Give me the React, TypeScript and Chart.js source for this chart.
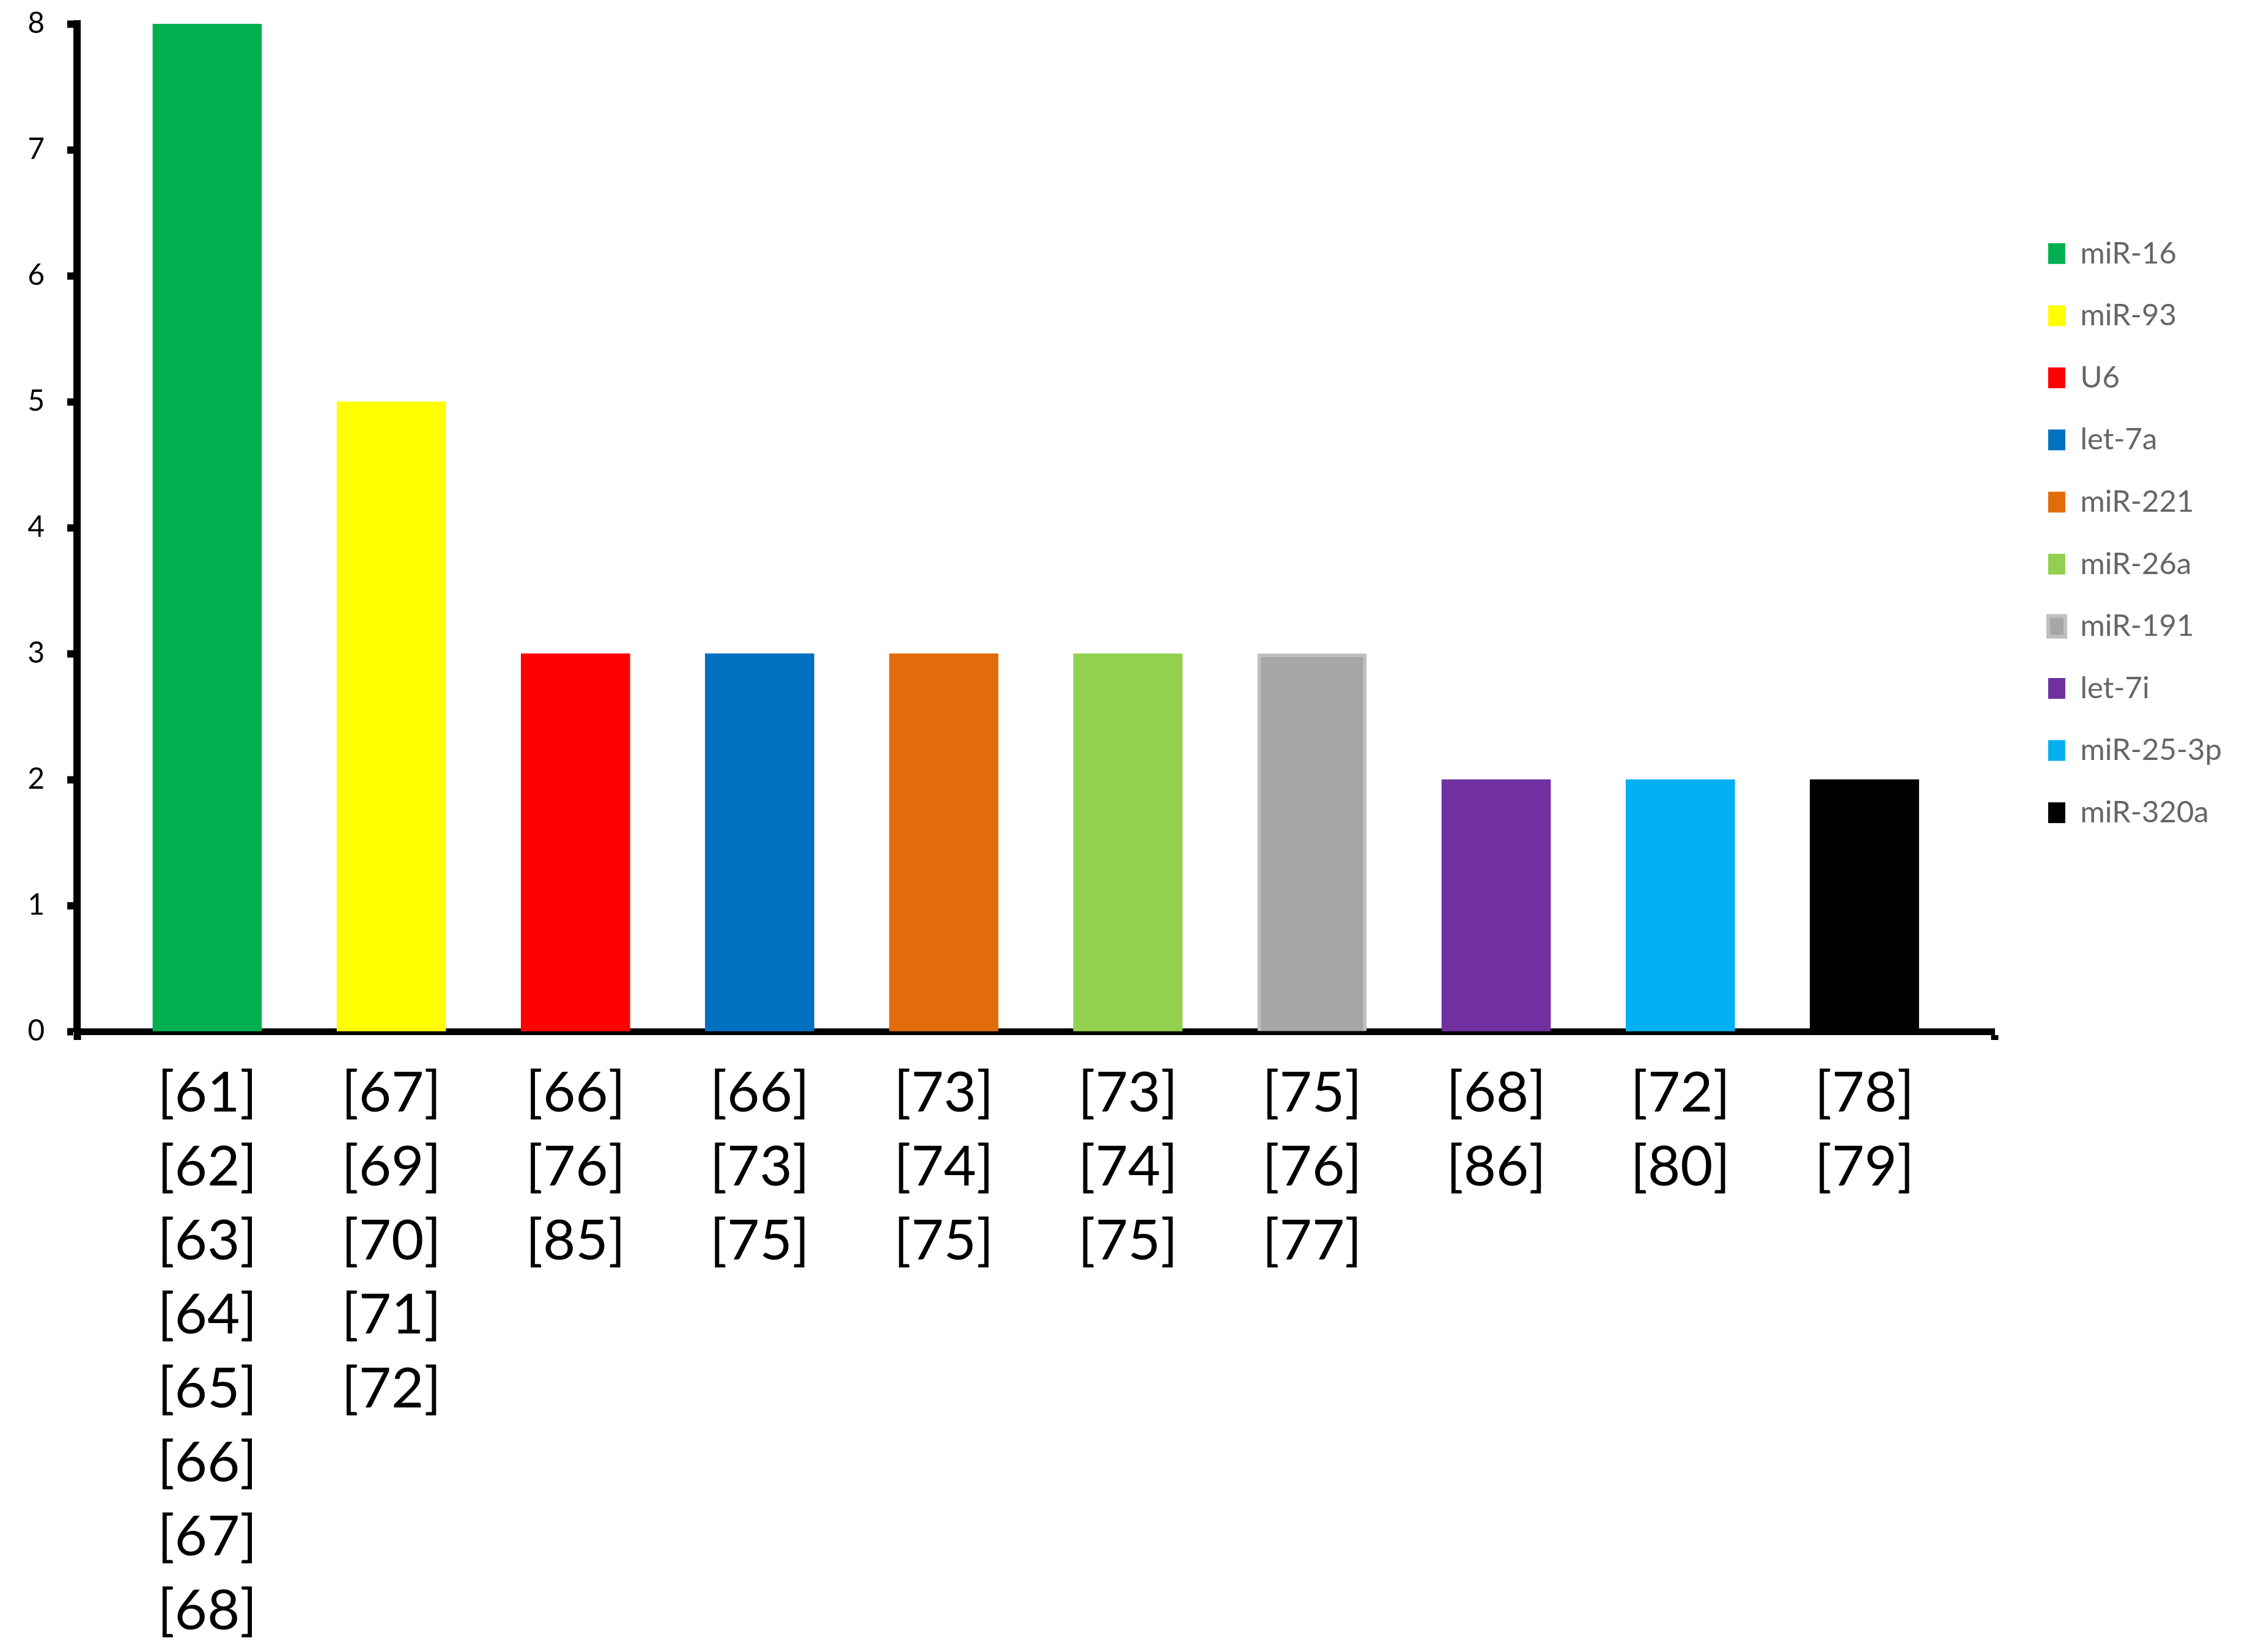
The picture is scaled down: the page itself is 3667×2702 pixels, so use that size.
import React, { useEffect, useRef } from 'react';
import { Chart, registerables } from 'chart.js';

Chart.register(...registerables);

const categories = ['miR-16', 'miR-93', 'U6', 'let-7a', 'miR-221', 'miR-26a', 'miR-191', 'let-7i', 'miR-25-3p', 'miR-320a'];
const counts = [8, 5, 3, 3, 3, 3, 3, 2, 2, 2];
const references = [
  ['[61]', '[62]', '[63]', '[64]', '[65]', '[66]', '[67]', '[68]'],
  ['[67]', '[69]', '[70]', '[71]', '[72]'],
  ['[66]', '[76]', '[85]'],
  ['[66]', '[73]', '[75]'],
  ['[73]', '[74]', '[75]'],
  ['[73]', '[74]', '[75]'],
  ['[75]', '[76]', '[77]'],
  ['[68]', '[86]'],
  ['[72]', '[80]'],
  ['[78]', '[79]'],
];
const barColors = ['#00B050', '#FFFF00', '#FF0000', '#0070C0', '#E36C0A', '#92D050', '#A6A6A6', '#7030A0', '#00B0F0', '#000000'];
const borderColors = ['#00B050', '#FFFF00', '#FF0000', '#0070C0', '#E36C0A', '#92D050', '#BFBFBF', '#7030A0', '#00B0F0', '#000000'];
const borderWidths = [0, 0, 0, 0, 0, 0, 6, 0, 0, 0];
const yTickValues = [0, 1, 2, 3, 4, 5, 6, 7, 8];
const xMin = -0.707;
const xMax = 9.707;

export default function App() {
  const ref = useRef<HTMLCanvasElement>(null);
  useEffect(() => {
    const chart = new Chart(ref.current as HTMLCanvasElement, {
      type: 'bar',
      data: {
        datasets: [
          {
            label: 'count',
            data: counts.map((v, i) => ({ x: i, y: v })),
            backgroundColor: barColors,
            borderColor: borderColors,
            borderWidth: borderWidths,
            borderSkipped: 'bottom',
            barThickness: 178,
          } as any,
        ],
      },
      options: {
        responsive: false,
        animation: false,
        devicePixelRatio: 1,
        layout: { padding: { top: 39, left: 0, right: 23, bottom: 0 } },
        plugins: {
          legend: {
            position: 'right',
            align: 'center',
            fullSize: false,
            title: { display: true, text: '', padding: 0, font: { size: 15 } },
            labels: {
              boxWidth: 28,
              boxHeight: 34,
              padding: 52.6,
              color: '#000',
              font: { family: 'Lato', size: 49 },
              generateLabels: () =>
                categories.map((c, i) => ({
                  text: c,
                  fillStyle: barColors[i],
                  strokeStyle: borderColors[i],
                  lineWidth: borderWidths[i],
                  hidden: false,
                  index: i,
                  datasetIndex: 0,
                })),
            },
          },
          tooltip: { enabled: false },
        },
        scales: {
          x: {
            type: 'linear',
            min: xMin,
            max: xMax,
            offset: false,
            afterBuildTicks: (s: any) => {
              s.ticks = [{ value: xMin }, ...categories.map((_, i) => ({ value: i })), { value: xMax }];
            },
            afterFit: (s: any) => {
              s.height = 1015;
              s.paddingLeft = 0;
              s.paddingRight = 0;
            },
            ticks: {
              autoSkip: false,
              maxRotation: 0,
              minRotation: 0,
              padding: 27,
              color: '#000',
              font: { family: 'Lato', size: 92, lineHeight: 1.315 },
              callback: (v: any) => references[v as number] || '',
            },
            grid: {
              display: true,
              offset: false,
              drawOnChartArea: false,
              drawTicks: true,
              tickLength: 14,
              tickWidth: 12,
              tickColor: (c: any) =>
                c.tick && (c.tick.value < 0 || c.tick.value > categories.length - 1) ? '#000' : 'rgba(0,0,0,0)',
            },
            border: { display: true, color: '#000', width: 11 },
          },
          y: {
            type: 'linear',
            min: 0,
            max: 8,
            afterBuildTicks: (s: any) => {
              s.ticks = yTickValues.map((v) => ({ value: v }));
            },
            afterFit: (s: any) => {
              s.width = 126;
              s.paddingTop = 0;
              s.paddingBottom = 0;
            },
            ticks: { padding: 37, color: '#000', font: { family: 'Lato', size: 48 } },
            grid: { drawOnChartArea: false, drawTicks: true, tickLength: 16, tickWidth: 12, tickColor: '#000' },
            border: { display: true, color: '#000', width: 12 },
          },
          spacer: {
            type: 'linear',
            position: 'right',
            display: true,
            afterFit: (s: any) => {
              s.width = 35;
              s.paddingTop = 0;
              s.paddingBottom = 0;
            },
            grid: { display: false, drawTicks: false },
            border: { display: false },
            ticks: { display: false },
          },
        },
      } as any,
    });
    return () => chart.destroy();
  }, []);
  return (
    <canvas
      ref={ref}
      width={3667}
      height={2702}
      style={{ position: 'absolute', left: 0, top: 0, display: 'block', width: '3667px', height: '2702px' }}
    />
  );
}
